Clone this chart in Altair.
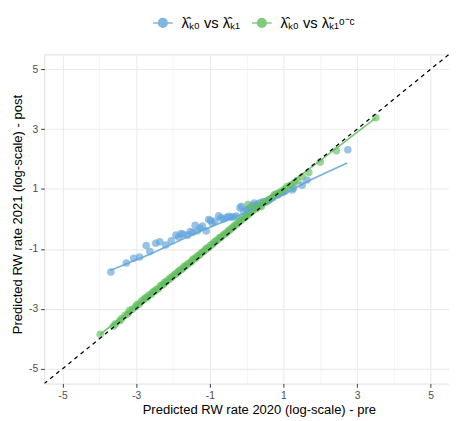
import altair as alt
import pandas as pd

# ---------------- data ----------------
series_names = ["\u03bb\u0302\u2096\u2080 vs \u03bb\u0302\u2096\u2081",
                "\u03bb\u0302\u2096\u2080 vs \u03bb\u0303\u2096\u2081\u1d52\u207b\u1d9c"]
series_colors = ["#5FA3DA", "#62BE5F"]

blue_x = [-3.69, -3.27, -3.07, -2.91, -2.73, -2.63, -2.47, -2.36, -2.20, -2.05,
          -1.92, -1.85, -1.78, -1.72, -1.60, -1.53, -1.47, -1.40, -1.34, -1.27,
          -1.20, -1.10, -1.03, -0.98, -0.94, -0.86, -0.76, -0.70, -0.63, -0.55,
          -0.49, -0.42, -0.36, -0.28, -0.18, -0.14, -0.08, 0.00, 0.04, 0.09,
          0.15, 0.21, 0.22, 0.30, 0.38, 0.46, 0.55, 0.62, 0.72, 0.85,
          0.97, 1.05, 1.24, 1.27, 1.51, 1.64, 2.75]
blue_y = [-1.77, -1.47, -1.31, -1.27, -0.89, -1.09, -0.81, -0.76, -0.87, -0.73,
          -0.54, -0.60, -0.49, -0.51, -0.54, -0.42, -0.45, -0.21, -0.40, -0.30,
          -0.24, -0.40, -0.02, -0.05, -0.13, -0.08, 0.11, 0.04, 0.00, 0.05,
          0.09, 0.06, 0.07, 0.10, 0.37, 0.42, 0.25, 0.31, 0.31, 0.37,
          0.45, 0.53, 0.44, 0.50, 0.55, 0.58, 0.60, 0.64, 0.72, 0.80,
          0.88, 0.93, 0.97, 1.03, 1.13, 1.30, 2.31]

green_x = [-3.98, -3.62, -3.56, -3.45, -3.40, -3.30, -3.22, -3.18, -3.10, -3.02,
           -2.98, -2.92, -2.86, -2.80, -2.76, -2.71, -2.66, -2.60, -2.55, -2.50,
           -2.45, -2.40, -2.35, -2.30, -2.26, -2.22, -2.18, -2.12, -2.08, -2.03,
           -1.98, -1.93, -1.88, -1.84, -1.79, -1.74, -1.70, -1.65, -1.60, -1.55,
           -1.50, -1.46, -1.41, -1.36, -1.31, -1.27, -1.22, -1.17, -1.12, -1.08,
           -1.03, -0.98, -0.93, -0.88, -0.84, -0.79, -0.74, -0.70, -0.65, -0.60,
           -0.55, -0.50, -0.46, -0.41, -0.36, -0.32, -0.27, -0.22, -0.18, -0.13,
           -0.08, -0.04, 0.01, 0.04, 0.06, 0.10, 0.15, 0.21, 0.25, 0.30,
           0.36, 0.40, 0.45, 0.52, 0.57, 0.62, 0.68, 0.75, 0.80, 0.86,
           0.93, 1.02, 1.10, 1.20, 1.30, 1.37, 1.51, 1.69, 2.00, 2.44, 3.51]
green_y = [-3.85, -3.58, -3.50, -3.40, -3.33, -3.22, -3.16, -3.05, -3.02, -2.93,
           -2.86, -2.85, -2.74, -2.70, -2.64, -2.62, -2.55, -2.52, -2.44, -2.41,
           -2.36, -2.33, -2.24, -2.21, -2.18, -2.11, -2.09, -2.03, -1.97, -1.95,
           -1.88, -1.84, -1.79, -1.74, -1.70, -1.66, -1.58, -1.57, -1.50, -1.47,
           -1.42, -1.35, -1.33, -1.26, -1.22, -1.19, -1.12, -1.09, -1.02, -0.98,
           -0.95, -0.88, -0.85, -0.78, -0.74, -0.70, -0.63, -0.61, -0.55, -0.50,
           -0.47, -0.40, -0.37, -0.31, -0.27, -0.21, -0.18, -0.11, -0.07, -0.03,
           0.03, 0.06, 0.12, 0.48, 0.16, 0.22, 0.25, 0.37, 0.33, 0.40,
           0.44, 0.42, 0.53, 0.56, 0.60, 0.66, 0.70, 0.80, 0.83, 0.86,
           0.92, 0.99, 1.08, 1.13, 1.22, 1.28, 1.41, 1.55, 1.90, 2.28, 3.38]

# smoothed fit lines
blue_fit_x = [-3.71, -2.63, -1.38, -0.10, 0.84, 1.73, 2.73]
blue_fit_y = [-1.72, -1.18, -0.47, 0.17, 0.72, 1.30, 1.87]
green_fit_x = [-3.98, -2.00, 0.00, 1.10, 2.00, 3.51]
green_fit_y = [-3.86, -1.90, 0.10, 1.12, 1.95, 3.38]

# identity reference line
diag_x = [-6.0, 6.0]
diag_y = [-6.0, 6.0]

ticks = [-5, -4, -3, -2, -1, 0, 1, 2, 3, 4, 5]
axis_domain = [-5.5, 5.5]

# ---------------- tables ----------------
pts = pd.concat([
    pd.DataFrame({"x": blue_x, "y": blue_y, "series": series_names[0]}),
    pd.DataFrame({"x": green_x, "y": green_y, "series": series_names[1]}),
])
fits = pd.concat([
    pd.DataFrame({"x": blue_fit_x, "y": blue_fit_y, "series": series_names[0]}),
    pd.DataFrame({"x": green_fit_x, "y": green_fit_y, "series": series_names[1]}),
])
diag = pd.DataFrame({"x": diag_x, "y": diag_y})

FONT = "Liberation Sans"
odd = "abs(datum.value) % 2 == 1"

def make_axis(title, is_x):
    common = dict(
        title=title,
        values=ticks,
        labelExpr=f"{odd} ? '' + datum.value : ''",
        labelFont=FONT, labelFontSize=10.5, labelColor="#4D4D4D",
        titleFont=FONT, titleFontSize=13.3, titleColor="#000000", titleFontWeight="normal",
        tickColor="#333333", tickSize=3.7, tickWidth=1,
        tickOpacity={"condition": {"test": odd, "value": 1}, "value": 0},
        gridColor="#EBEBEB",
        gridWidth={"condition": {"test": odd, "value": 1.1}, "value": 0.55},
        domain=False,
        titleBaseline="alphabetic",
        titleAlign="center",
    )
    if is_x:
        common.update(labelPadding=3.5, titleY=30, titleX=219)
    else:
        common.update(labelPadding=3, titleAngle=270, titleX=-23, titleY=163)
    return alt.Axis(**common)

xs = alt.Scale(domain=axis_domain, nice=False, zero=False)
ys = alt.Scale(domain=axis_domain, nice=False, zero=False)
color = alt.Color(
    "series:N",
    scale=alt.Scale(domain=series_names, range=series_colors),
    legend=alt.Legend(
        title=None, orient="none", direction="horizontal",
        legendX=110, legendY=-43,
        symbolType="M-1,0H1M-0.45,0a0.45,0.45 0 1,0 0.9,0a0.45,0.45 0 1,0 -0.9,0",
        symbolSize=400, symbolStrokeWidth=1.4, symbolOpacity=0.8,
        labelFont=FONT, labelFontSize=15, labelColor="#000000",
        columnPadding=9, labelOffset=8,
    ),
)

points = alt.Chart(pts).mark_circle(size=60, opacity=0.65).encode(
    x=alt.X("x:Q", scale=xs, axis=make_axis("Predicted RW rate 2020 (log-scale) - pre", True)),
    y=alt.Y("y:Q", scale=ys, axis=make_axis("Predicted RW rate 2021 (log-scale) - post", False)),
    color=color,
)
lines = alt.Chart(fits).mark_line(strokeWidth=1.7, opacity=0.85).encode(
    x=alt.X("x:Q", scale=xs), y=alt.Y("y:Q", scale=ys), color=color,
)
dash = alt.Chart(diag).mark_line(color="#000000", strokeDash=[4, 4], strokeWidth=1.3, clip=True).encode(
    x=alt.X("x:Q", scale=xs), y=alt.Y("y:Q", scale=ys),
)

chart = alt.layer(points, lines, dash).properties(
    width=413, height=336,
    autosize=alt.AutoSizeParams(type="none"),
    padding={"left": 37, "top": 43, "right": 0, "bottom": 40},
).configure_view(stroke="#333333", strokeWidth=1.1).configure(background="white")

chart.save("out.html", embed_options={"renderer": "svg", "actions": False})
